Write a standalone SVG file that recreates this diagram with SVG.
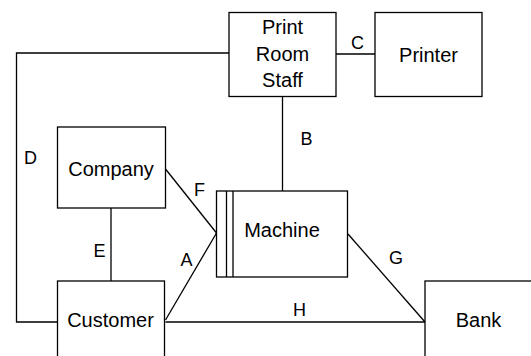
<svg xmlns="http://www.w3.org/2000/svg" width="531" height="356" viewBox="0 0 531 356">
<style>
.box{fill:#fff;stroke:#000;stroke-width:1.3}
.ln{fill:none;stroke:#000;stroke-width:1.3}
.t{font-family:"Liberation Sans",Arial,sans-serif;font-size:20px;fill:#000;text-anchor:middle}
.lb{font-family:"Liberation Sans",Arial,sans-serif;font-size:18px;fill:#000;text-anchor:middle}
</style>
<rect width="531" height="356" fill="#fff"/>
<g id="connectors">
<polyline class="ln" points="229,53 16.5,53 16.5,322 57.5,322"/>
<line class="ln" x1="336" y1="54" x2="375" y2="54"/>
<line class="ln" x1="282.5" y1="96.5" x2="282.5" y2="191"/>
<line class="ln" x1="111" y1="208" x2="111" y2="281"/>
<line class="ln" x1="165.5" y1="169" x2="216.5" y2="233"/>
<line class="ln" x1="165.5" y1="320" x2="216.5" y2="233"/>
<line class="ln" x1="348" y1="234" x2="425" y2="322"/>
<line class="ln" x1="165.5" y1="322" x2="425" y2="322"/>
<text class="lb" x="30.5" y="164">D</text>
<text class="lb" x="357.5" y="49">C</text>
<text class="lb" x="306.5" y="145">B</text>
<text class="lb" x="99.5" y="257">E</text>
<text class="lb" x="199.5" y="196">F</text>
<text class="lb" x="186.5" y="266">A</text>
<text class="lb" x="396" y="264">G</text>
<text class="lb" x="299.5" y="315.5">H</text>
</g>
<g id="print-room-staff">
<rect class="box" x="229" y="12.5" width="107" height="84"/>
<text class="t" x="282.5" y="34">Print</text>
<text class="t" x="282.5" y="60.5">Room</text>
<text class="t" x="282.5" y="86.5">Staff</text>
</g>
<g id="printer">
<rect class="box" x="375" y="12.5" width="107" height="84"/>
<text class="t" x="428.5" y="62">Printer</text>
</g>
<g id="company">
<rect class="box" x="57.5" y="127" width="108" height="81"/>
<text class="t" x="111" y="176">Company</text>
</g>
<g id="machine">
<rect class="box" x="216.5" y="191" width="131" height="86"/>
<line class="ln" x1="226.5" y1="191" x2="226.5" y2="277"/>
<line class="ln" x1="233" y1="191" x2="233" y2="277"/>
<text class="t" x="282" y="237">Machine</text>
</g>
<g id="customer">
<rect class="box" x="57.5" y="281" width="107" height="100"/>
<text class="t" x="110.5" y="327">Customer</text>
</g>
<g id="bank">
<rect class="box" x="425" y="281" width="120" height="100"/>
<text class="t" x="478.5" y="327">Bank</text>
</g>
</svg>
